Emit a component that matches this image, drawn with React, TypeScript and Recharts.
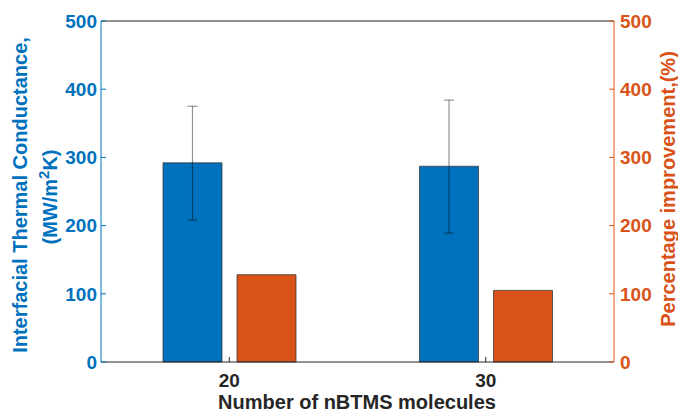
import { BarChart, Bar, XAxis, YAxis, ErrorBar } from "recharts";

const molecules = ["20", "30"];
const conductance = [292, 287];
// lower / upper spread of the conductance measurements
const conductanceErr: [number, number][] = [
  [84, 83],
  [98, 97],
];
const improvement = [128, 105];
const yTicks = [0, 100, 200, 300, 400, 500];

const data = molecules.map((n, i) => ({
  n,
  itc: conductance[i],
  err: conductanceErr[i],
  pct: improvement[i],
}));

const blue = "#0072BD";
const orange = "#D95319";
const ink = "#262626";
const font = "'Liberation Sans', Arial, sans-serif";

const tickFont = { fontSize: 19, fontWeight: 700, fontFamily: font };

function LeftTitle() {
  return (
    <g fill={blue} fontFamily={font} fontWeight={700} fontSize={20}>
      <text x={27} y={195} textAnchor="middle" transform="rotate(-90 27 195)">
        Interfacial Thermal Conductance,
      </text>
      <text x={57} y={197} textAnchor="middle" transform="rotate(-90 57 197)">
        (MW/m<tspan dy={-8} fontSize={15}>2</tspan>
        <tspan dy={8}>K)</tspan>
      </text>
    </g>
  );
}

function RightTitle() {
  return (
    <text
      x={675}
      y={189}
      textAnchor="middle"
      transform="rotate(-90 675 189)"
      fill={orange}
      fontFamily={font}
      fontWeight={700}
      fontSize={20}
    >
      Percentage improvement,(%)
    </text>
  );
}

function BottomTitle() {
  return (
    <text
      x={357}
      y={409}
      textAnchor="middle"
      fill={ink}
      fontFamily={font}
      fontWeight={700}
      fontSize={20}
    >
      Number of nBTMS molecules
    </text>
  );
}

export default function App() {
  return (
    <div style={{ position: "absolute", left: 0, top: 0, background: "#fff" }}>
      <BarChart
        width={678}
        height={414}
        data={data}
        margin={{ top: 20, right: 0, bottom: 0, left: 0 }}
        barSize={59}
        barGap={15}
      >
        <XAxis
          xAxisId="bottom"
          dataKey="n"
          height={52}
          stroke={ink}
          tickSize={-5}
          tickMargin={17}
          tick={{ ...tickFont, fill: ink }}
          label={BottomTitle}
        />
        {/* closes the box along the top edge */}
        <XAxis
          xAxisId="top"
          dataKey="n"
          orientation="top"
          height={1}
          stroke={ink}
          tickSize={-5}
          tick={false}
        />
        <YAxis
          yAxisId="left"
          width={101}
          domain={[0, 500]}
          ticks={yTicks}
          stroke={blue}
          tickSize={-5}
          tickMargin={9}
          tick={{ ...tickFont, fill: blue }}
          label={LeftTitle}
        />
        <YAxis
          yAxisId="right"
          orientation="right"
          width={64}
          domain={[0, 500]}
          ticks={yTicks}
          stroke={orange}
          tickSize={-5}
          tickMargin={11}
          tick={{ ...tickFont, fill: orange }}
          label={RightTitle}
        />
        <Bar
          xAxisId="bottom"
          yAxisId="left"
          dataKey="itc"
          fill={blue}
          stroke="#3a3a3a"
          strokeWidth={0.8}
          isAnimationActive={false}
        >
          <ErrorBar
            dataKey="err"
            width={5}
            stroke="rgba(0,0,0,0.42)"
            strokeWidth={1.2}
            isAnimationActive={false}
          />
        </Bar>
        <Bar
          xAxisId="bottom"
          yAxisId="right"
          dataKey="pct"
          fill={orange}
          stroke="#3a3a3a"
          strokeWidth={0.8}
          isAnimationActive={false}
        />
      </BarChart>
    </div>
  );
}
